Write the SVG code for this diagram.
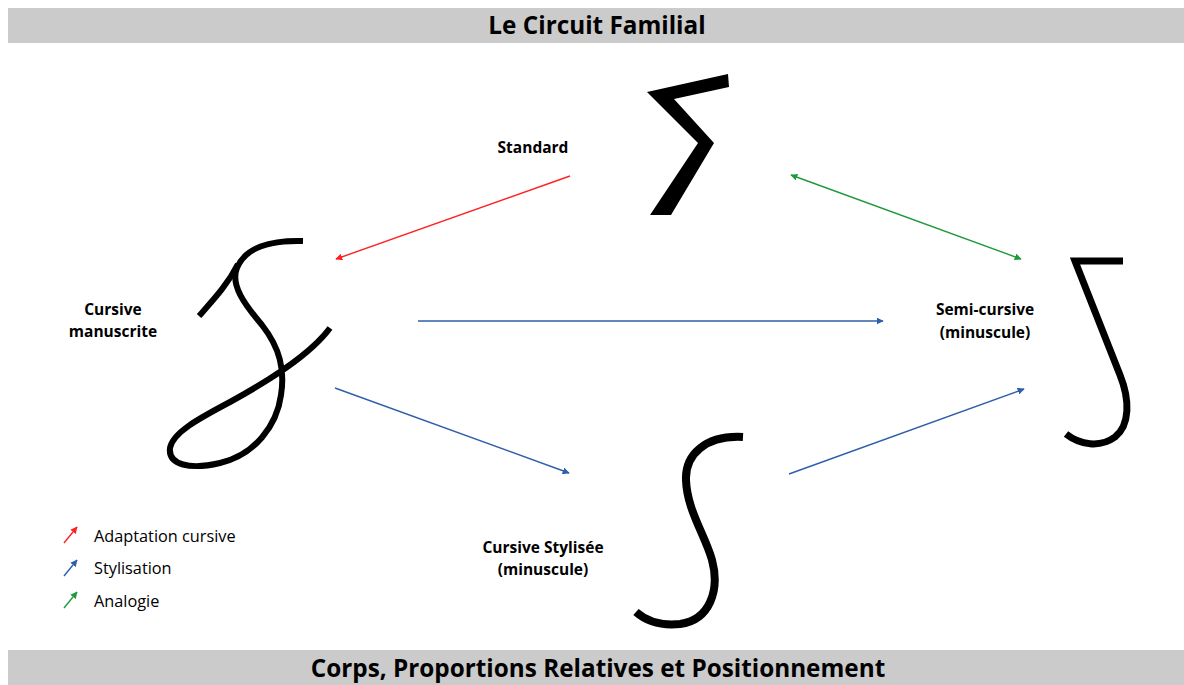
<svg xmlns="http://www.w3.org/2000/svg" width="1184" height="685" viewBox="0 0 1184 685">
<style>
.bar{fill:#cbcbcb}
.title{font-family:"Open Sans","Liberation Sans",sans-serif;font-weight:bold;font-size:24.3px;fill:#000;text-anchor:middle}
.lbl{font-family:"Open Sans","Liberation Sans",sans-serif;font-weight:bold;font-size:15.5px;fill:#000;text-anchor:middle}
.leg{font-family:"Open Sans","Liberation Sans",sans-serif;font-size:16.3px;fill:#000}
.glyph{fill:none;stroke:#000;stroke-linecap:butt;stroke-linejoin:miter}
.c{fill:none;stroke-width:1.4}
</style>
<defs>
<marker id="ar" viewBox="0 0 10 10" refX="9" refY="5" markerWidth="5" markerHeight="5" orient="auto-start-reverse"><path d="M0,0 L10,5 L0,10 z" fill="#ff2020"/></marker>
<marker id="ab" viewBox="0 0 10 10" refX="9" refY="5" markerWidth="5" markerHeight="5" orient="auto-start-reverse"><path d="M0,0 L10,5 L0,10 z" fill="#2e5faa"/></marker>
<marker id="ag" viewBox="0 0 10 10" refX="9" refY="5" markerWidth="5" markerHeight="5" orient="auto-start-reverse"><path d="M0,0 L10,5 L0,10 z" fill="#1f9a3a"/></marker>
</defs>
<rect class="bar" x="8" y="8" width="1176" height="35"/>
<text class="title" x="597" y="34">Le Circuit Familial</text>
<rect class="bar" x="8" y="650" width="1176" height="35"/>
<text class="title" x="598" y="677">Corps, Proportions Relatives et Positionnement</text>

<g id="standard">
<polygon points="647,92 728,74 729,87 674,99 714,143 671,215 650,215 698,143" fill="#000"/>
<text class="lbl" x="533" y="153">Standard</text>
</g>
<g id="cursive-manuscrite">
<path class="glyph" stroke-width="6" d="M303,241 C270,240 245,248 237,268 C230,285 245,305 262,325 C280,348 285,370 281,395 C277,425 255,455 220,463 C190,470 168,465 170,448 C173,432 200,418 230,402 C270,380 310,355 330,328"/>
<path class="glyph" stroke-width="6" d="M199,316 C215,298 228,284 238,264"/>
<text class="lbl" x="113" y="315">Cursive</text>
<text class="lbl" x="113" y="337">manuscrite</text>
</g>
<g id="semi-cursive">
<path class="glyph" stroke-width="7" d="M1123,261 L1075,261 L1120,375 C1130,400 1130,425 1115,437 C1100,448 1080,445 1066,434"/>
<text class="lbl" x="985" y="315">Semi-cursive</text>
<text class="lbl" x="985" y="338">(minuscule)</text>
</g>
<g id="cursive-stylisee">
<path class="glyph" stroke-width="8" d="M743,437 C705,435 685,455 686,480 C687,510 705,535 712,560 C720,590 710,620 680,624 C660,626 645,620 636,612"/>
<text class="lbl" x="543" y="553">Cursive Stylisée</text>
<text class="lbl" x="543" y="575">(minuscule)</text>
</g>
<g id="connectors">
<line class="c" stroke="#ff2020" x1="570" y1="176" x2="336" y2="259" marker-end="url(#ar)"/>
<line class="c" stroke="#1f9a3a" x1="791" y1="175" x2="1021" y2="259" marker-start="url(#ag)" marker-end="url(#ag)"/>
<line class="c" stroke="#2e5faa" x1="418" y1="321" x2="883" y2="321" marker-end="url(#ab)"/>
<line class="c" stroke="#2e5faa" x1="335" y1="388" x2="569" y2="473" marker-end="url(#ab)"/>
<line class="c" stroke="#2e5faa" x1="789" y1="474" x2="1024" y2="389" marker-end="url(#ab)"/>
</g>
<g id="legend">
<line class="c" stroke="#ff2020" x1="64" y1="543" x2="77" y2="527" marker-end="url(#ar)"/>
<text class="leg" x="94" y="542">Adaptation cursive</text>
<line class="c" stroke="#2e5faa" x1="64" y1="576" x2="77" y2="560" marker-end="url(#ab)"/>
<text class="leg" x="94" y="574">Stylisation</text>
<line class="c" stroke="#1f9a3a" x1="64" y1="608" x2="77" y2="592" marker-end="url(#ag)"/>
<text class="leg" x="94" y="607">Analogie</text>
</g>
</svg>
